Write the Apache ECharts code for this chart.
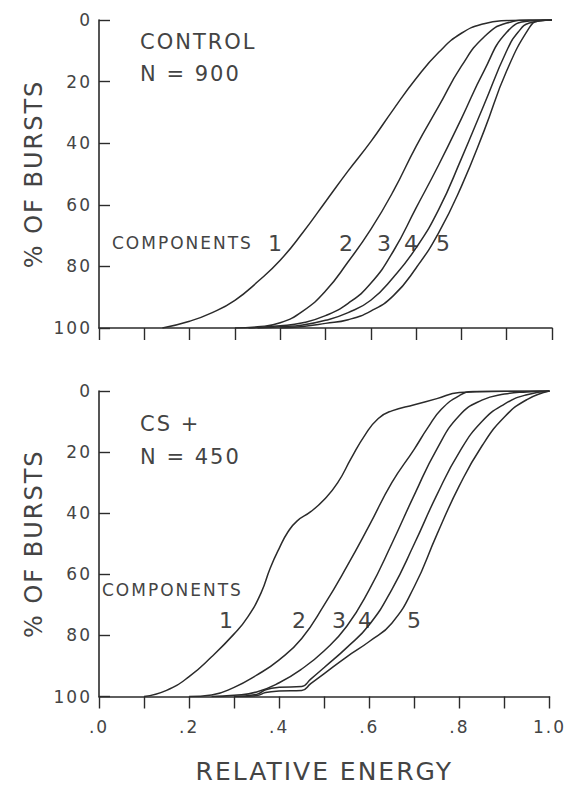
<!DOCTYPE html>
<html>
<head>
<meta charset="utf-8">
<script src="https://cdn.jsdelivr.net/npm/echarts@6/dist/echarts.min.js"></script>
<style>
  html, body { margin: 0; padding: 0; background: #ffffff; }
  #chart { width: 566px; height: 785px; }
  #chart text { letter-spacing: 2px; }
</style>
</head>
<body>
<div id="chart"></div>
<script>
// ---- Data: [relative energy, % of bursts] ----
const controlC1 = [[0.14,100],[0.2,97.8],[0.25,95],[0.3,91],[0.35,85],[0.4,78],[0.45,69],[0.5,59],[0.55,49],[0.6,39.5],[0.65,29],[0.7,19],[0.75,10.5],[0.8,4.3],[0.85,1.2],[0.9,0.2],[0.95,0],[1.0,0]];
const controlC2 = [[0.3,100],[0.35,99.6],[0.4,98.3],[0.45,94.5],[0.5,88],[0.55,78.5],[0.6,68],[0.65,55.5],[0.7,41],[0.75,28],[0.8,15],[0.85,5.5],[0.9,1],[0.95,0],[1.0,0]];
const controlC3 = [[0.33,100],[0.4,99.3],[0.45,98.3],[0.5,96],[0.55,92],[0.6,85.5],[0.65,75],[0.7,61],[0.75,47],[0.8,32],[0.85,16.5],[0.9,4],[0.95,0.3],[1.0,0]];
const controlC4 = [[0.35,100],[0.4,99.6],[0.45,99],[0.5,97.5],[0.55,95],[0.6,91],[0.65,83.5],[0.7,74],[0.75,61.5],[0.8,45],[0.85,27.5],[0.9,10],[0.925,4],[0.95,1],[1.0,0]];
const controlC5 = [[0.4,100],[0.45,99.5],[0.5,98.5],[0.55,97.3],[0.6,94.5],[0.65,89.5],[0.7,80.5],[0.75,69],[0.8,54],[0.85,36],[0.9,16.5],[0.95,2.5],[0.97,0.3],[1.0,0]];

const csC1 = [[0.1,100],[0.15,98],[0.2,93.5],[0.25,87],[0.3,79.5],[0.33,74],[0.36,66],[0.38,58],[0.4,51.5],[0.42,46],[0.44,42.5],[0.47,39.5],[0.5,35.5],[0.53,30],[0.56,22],[0.59,14.5],[0.62,9],[0.65,6.5],[0.7,4.5],[0.75,2.5],[0.8,0.5],[0.9,0.1],[1.0,0]];
const csC2 = [[0.2,100],[0.25,99.5],[0.3,97],[0.35,93],[0.4,88],[0.45,81],[0.5,70],[0.55,57.5],[0.6,44],[0.65,30],[0.7,19],[0.73,12],[0.76,6],[0.8,1.5],[0.83,0.2],[0.9,0.1],[1.0,0]];
const csC3 = [[0.25,100],[0.3,99.6],[0.35,98.5],[0.4,95.5],[0.45,91],[0.5,85],[0.55,77],[0.6,65],[0.65,50],[0.7,34],[0.75,19],[0.8,8],[0.85,3],[0.9,1],[0.95,0.3],[1.0,0]];
const csC4 = [[0.3,100],[0.35,99.3],[0.37,97.8],[0.4,97],[0.45,96.7],[0.47,94.3],[0.5,90.5],[0.55,84],[0.6,76.5],[0.65,65],[0.7,50],[0.75,34],[0.8,20],[0.85,10],[0.9,4.3],[0.95,1.2],[1.0,0]];
const csC5 = [[0.3,100],[0.35,99.7],[0.37,98.7],[0.4,98.2],[0.45,98],[0.47,95.8],[0.5,92.5],[0.55,87],[0.6,82],[0.65,76],[0.7,64],[0.75,47],[0.8,31],[0.85,18],[0.9,8.5],[0.95,2.8],[1.0,0]];

const xTickLabels = ['.0', '.2', '.4', '.6', '.8', '1.0'];
const yTickLabels = ['0', '20', '40', '60', '80', '100'];
const componentLabels = ['1', '2', '3', '4', '5'];

// ---- Styling ----
const FONT = 'DejaVu Sans';
const INK = '#2b2b2b';
const TXT = '#444444';

function xAxisFor(gridIndex, showLabels) {
  return {
    type: 'value', gridIndex: gridIndex, min: 0, max: 1, interval: 0.1,
    axisLine: { show: true, onZero: false, lineStyle: { color: INK, width: 1.6 } },
    axisTick: { show: true, inside: false, length: 12, lineStyle: { color: INK, width: 1.4 } },
    axisLabel: {
      show: showLabels, margin: 22, fontSize: 17, fontFamily: FONT, color: TXT,
      formatter: function (v) {
        const k = Math.round(v * 10);
        return (k % 2 === 0) ? xTickLabels[k / 2] : '';
      }
    },
    splitLine: { show: false },
    name: showLabels ? 'RELATIVE ENERGY' : '',
    nameLocation: 'middle', nameGap: 75,
    nameTextStyle: { fontSize: 25, fontFamily: FONT, color: TXT, verticalAlign: 'middle' }
  };
}
function yAxisFor(gridIndex) {
  return {
    type: 'value', gridIndex: gridIndex, inverse: true, min: 0, max: 100, interval: 20,
    axisLine: { show: true, onZero: false, lineStyle: { color: INK, width: 1.6 } },
    axisTick: { show: true, inside: true, length: 11, lineStyle: { color: INK, width: 1.4 } },
    axisLabel: {
      margin: 7, fontSize: 17, fontFamily: FONT, color: TXT,
      formatter: function (v) { return yTickLabels[Math.round(v / 20)]; }
    },
    splitLine: { show: false },
    name: '% OF BURSTS', nameLocation: 'middle', nameRotate: 90, nameGap: 65,
    nameTextStyle: { fontSize: 24, fontFamily: FONT, color: TXT, verticalAlign: 'middle' }
  };
}
function curve(data, idx) {
  return {
    type: 'line', data: data, xAxisIndex: idx, yAxisIndex: idx,
    showSymbol: false, symbol: 'none', smooth: 0.5,
    lineStyle: { color: INK, width: 1.5 }, silent: true, animation: false
  };
}
function label(text, x, y, size, align) {
  return {
    type: 'text', x: x, y: y, silent: true,
    style: { text: text, fontSize: size, fontFamily: FONT, fill: TXT,
             align: align || 'center', verticalAlign: 'middle' }
  };
}

const chart = echarts.init(document.getElementById('chart'), null, { renderer: 'svg' });
chart.setOption({
  animation: false,
  backgroundColor: '#ffffff',
  grid: [
    { left: 99, right: 14, top: 20, height: 308, containLabel: false },
    { left: 99, right: 14, top: 391, height: 306, containLabel: false }
  ],
  xAxis: [xAxisFor(0, false), xAxisFor(1, true)],
  yAxis: [yAxisFor(0), yAxisFor(1)],
  series: [
    curve(controlC1, 0), curve(controlC2, 0), curve(controlC3, 0), curve(controlC4, 0), curve(controlC5, 0),
    curve(csC1, 1), curve(csC2, 1), curve(csC3, 1), curve(csC4, 1), curve(csC5, 1)
  ],
  graphic: [
    label('CONTROL', 140, 42, 21, 'left'),
    label('N = 900', 140, 74, 21, 'left'),
    label('COMPONENTS', 112, 243, 17, 'left'),
    label(componentLabels[0], 276, 243, 22),
    label(componentLabels[1], 347, 243, 22),
    label(componentLabels[2], 385, 243, 22),
    label(componentLabels[3], 412, 243, 22),
    label(componentLabels[4], 444, 243, 22),
    label('CS +', 140, 424, 21, 'left'),
    label('N = 450', 140, 457, 21, 'left'),
    label('COMPONENTS', 102, 590, 17, 'left'),
    label(componentLabels[0], 227, 620, 22),
    label(componentLabels[1], 300, 620, 22),
    label(componentLabels[2], 340, 620, 22),
    label(componentLabels[3], 366, 620, 22),
    label(componentLabels[4], 415, 620, 22)
  ]
});
</script>
</body>
</html>
